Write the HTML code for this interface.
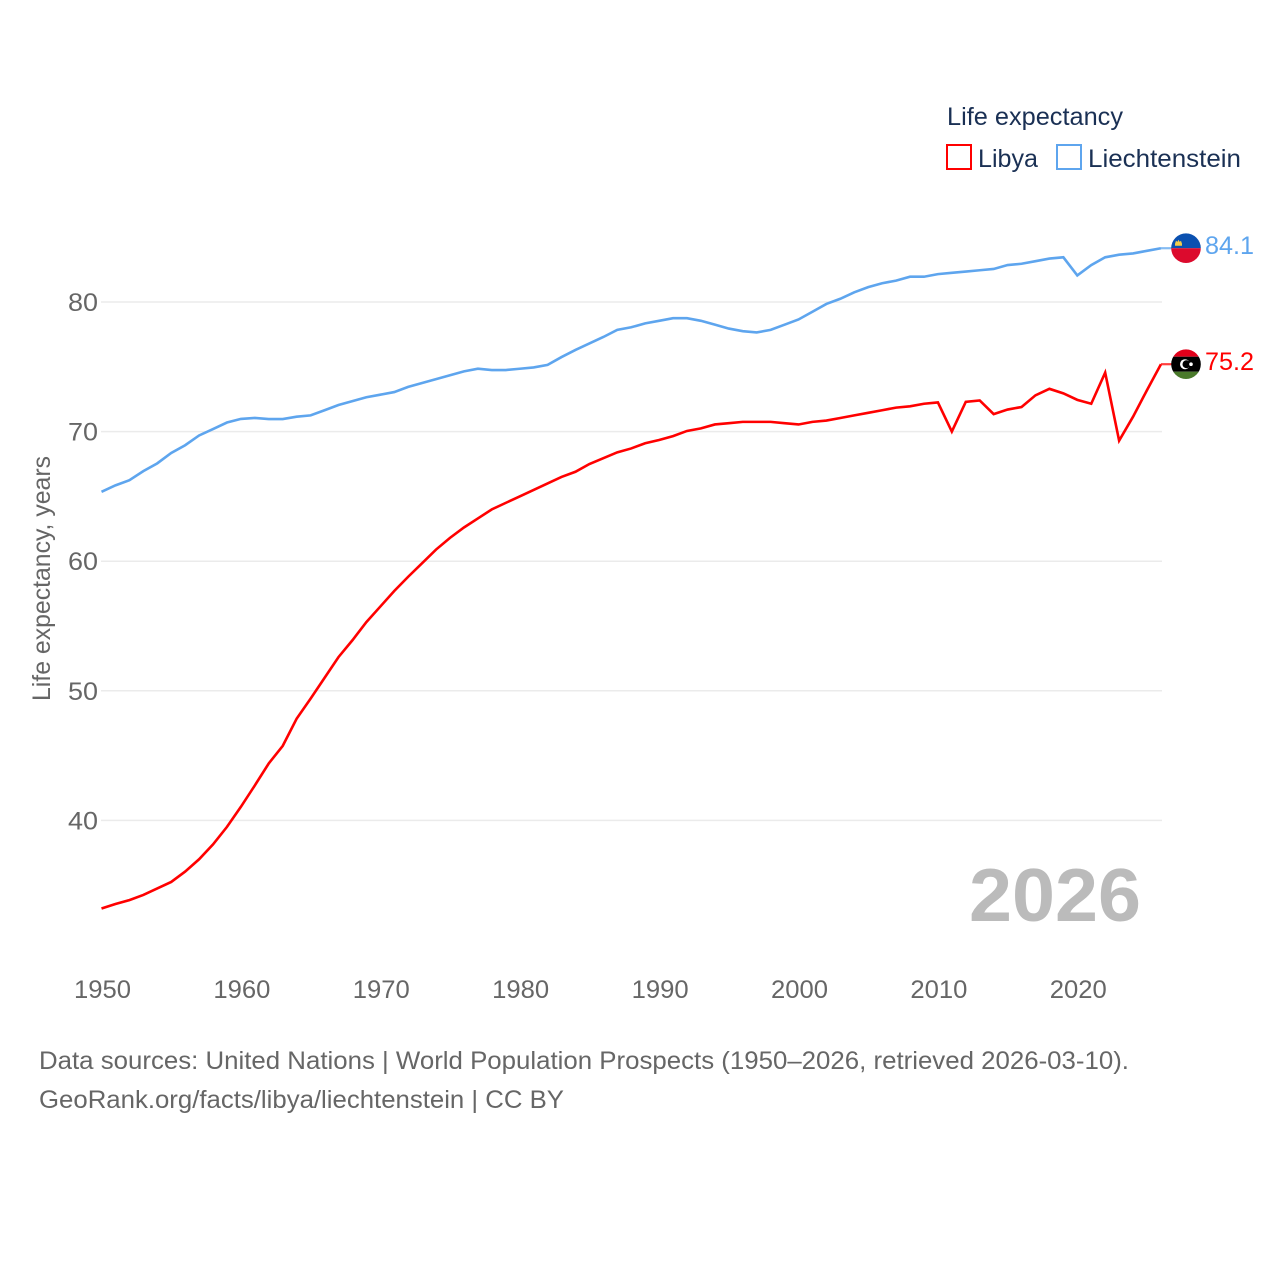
<!DOCTYPE html>
<html lang="en">
<head>
<meta charset="utf-8">
<title>Life expectancy: Libya and Liechtenstein</title>
<style>
html,body{margin:0;padding:0;background:#fff;}
svg{display:block;font-family:"Liberation Sans",sans-serif;}
</style>
</head>
<body>
<svg id="chart" width="1280" height="1280" viewBox="0 0 1280 1280" xmlns="http://www.w3.org/2000/svg">
  <defs>
    <clipPath id="flag-clip-li"><circle cx="0" cy="0" r="14.8"/></clipPath>
    <clipPath id="flag-clip-ly"><circle cx="0" cy="0" r="14.8"/></clipPath>
  </defs>
  <rect width="1280" height="1280" fill="#fff"/>
  <g id="grid"></g>
  <g id="yticks"></g>
  <g id="xticks"></g>
  <text transform="translate(50,701) rotate(-90)" font-size="25" fill="#666" textLength="245" lengthAdjust="spacingAndGlyphs">Life expectancy, years</text>
  <text x="969" y="921" font-size="75" font-weight="700" fill="#bbbbbb" textLength="172" lengthAdjust="spacingAndGlyphs">2026</text>
  <g id="series"></g>

  <g id="flag-li">
    <g clip-path="url(#flag-clip-li)">
      <rect x="-16" y="-16" width="32" height="16" fill="#0a50b0"/>
      <rect x="-16" y="0" width="32" height="16" fill="#dc0a2d"/>
      <path d="M-11,-2.5 h7 v-2 l-1,-3 -1.4,1.2 -1.1,-2.2 -1.1,2.2 -1.4,-1.2 -1,3z" fill="#f2cd4b"/>
    </g>
  </g>
  <g id="flag-ly">
    <g clip-path="url(#flag-clip-ly)">
      <rect x="-16" y="-16" width="32" height="8.5" fill="#e1001a"/>
      <rect x="-16" y="-7.5" width="32" height="15" fill="#000"/>
      <rect x="-16" y="7.5" width="32" height="8.5" fill="#4a7a2b"/>
      <circle cx="-1" cy="0" r="5" fill="#fff"/>
      <circle cx="0.5" cy="0" r="4" fill="#000"/>
      <circle cx="5" cy="0" r="1.8" fill="#fff"/>
    </g>
  </g>
  <text id="value-li" x="1205" font-size="25" fill="#5ea5ee" textLength="49" lengthAdjust="spacingAndGlyphs"></text>
  <text id="value-ly" x="1205" font-size="25" fill="#ff0000" textLength="49" lengthAdjust="spacingAndGlyphs"></text>

  <g>
    <text x="947" y="125" font-size="25" fill="#1a3054" textLength="176" lengthAdjust="spacingAndGlyphs">Life expectancy</text>
    <g>
      <rect x="947" y="145" width="24" height="24" fill="none" stroke="#ff0000" stroke-width="2"/>
      <text x="978" y="167" font-size="25" fill="#1a3054" textLength="60" lengthAdjust="spacingAndGlyphs">Libya</text>
    </g>
    <g>
      <rect x="1057" y="145" width="24" height="24" fill="none" stroke="#5ea5ee" stroke-width="2"/>
      <text x="1088" y="167" font-size="25" fill="#1a3054" textLength="153" lengthAdjust="spacingAndGlyphs">Liechtenstein</text>
    </g>
  </g>

  <text x="39" y="1069" font-size="25" fill="#666" textLength="1090" lengthAdjust="spacingAndGlyphs">Data sources: United Nations | World Population Prospects (1950–2026, retrieved 2026-03-10).</text>
  <text x="39" y="1108" font-size="25" fill="#666" textLength="525" lengthAdjust="spacingAndGlyphs">GeoRank.org/facts/libya/liechtenstein | CC BY</text>
</svg>
<script>
const startYear = 1950;
const yTickValues = [40, 50, 60, 70, 80];
const xTickValues = [1950, 1960, 1970, 1980, 1990, 2000, 2010, 2020];
const libyaLabel = "75.2";
const liechtensteinLabel = "84.1";
const libyaValues = [
  33.2,33.55,33.85,34.25,34.75,35.25,36.05,37.0,38.15,39.5,
  41.05,42.7,44.4,45.75,47.85,49.4,51.0,52.6,53.9,55.3,
  56.5,57.7,58.8,59.85,60.9,61.8,62.6,63.3,64.0,64.5,
  65.0,65.5,66.0,66.5,66.9,67.5,67.95,68.4,68.7,69.1,
  69.35,69.65,70.05,70.25,70.55,70.65,70.75,70.75,70.75,70.65,
  70.55,70.75,70.85,71.05,71.25,71.45,71.65,71.85,71.95,72.15,
  72.25,70.0,72.3,72.4,71.35,71.7,71.9,72.8,73.3,72.95,
  72.45,72.15,74.55,69.3,71.15,73.2,75.2
];
const liechtensteinValues = [
  65.35,65.85,66.25,66.95,67.55,68.35,68.95,69.7,70.2,70.7,
  70.98,71.05,70.97,70.97,71.15,71.25,71.65,72.05,72.35,72.65,
  72.85,73.05,73.45,73.75,74.05,74.35,74.65,74.85,74.75,74.75,
  74.85,74.95,75.15,75.75,76.3,76.8,77.3,77.85,78.05,78.35,
  78.55,78.75,78.75,78.55,78.25,77.95,77.75,77.65,77.85,78.25,
  78.65,79.25,79.85,80.25,80.75,81.15,81.45,81.65,81.95,81.95,
  82.15,82.25,82.35,82.45,82.55,82.85,82.95,83.15,83.35,83.45,
  82.05,82.85,83.45,83.65,83.75,83.95,84.15
];

const NS = "http://www.w3.org/2000/svg";
function xScale(year) { return 101.5 + (year - 1950) * 13.94; }
function yScale(v) { return 302 + (80 - v) * 12.96; }
function make(tag, attrs, parent) {
  const el = document.createElementNS(NS, tag);
  for (const k in attrs) el.setAttribute(k, attrs[k]);
  parent.appendChild(el);
  return el;
}
const grid = document.getElementById("grid");
const yticks = document.getElementById("yticks");
const xticks = document.getElementById("xticks");
const series = document.getElementById("series");

yTickValues.forEach(function (v) {
  const line = make("line", {x1: 101, x2: 1162, y1: yScale(v), y2: yScale(v), stroke: "#ebebeb", "stroke-width": 1.5}, grid);
  
  
  const t = make("text", {x: 98, y: yScale(v) + 9, "text-anchor": "end", "font-size": 25, fill: "#666", textLength: 30, lengthAdjust: "spacingAndGlyphs"}, yticks);
  t.textContent = v;
  
  
});
xTickValues.forEach(function (yr) {
  const t = make("text", {x: xScale(yr) - 27.5, y: 998, "font-size": 25, fill: "#666", textLength: 57, lengthAdjust: "spacingAndGlyphs"}, xticks);
  t.textContent = yr;
  
  
});
function pathFor(values) {
  return values.map(function (v, i) {
    return (i ? "L" : "M") + xScale(startYear + i).toFixed(2) + "," + yScale(v).toFixed(2);
  }).join(" ");
}
function drawSeries(values, color, name, flagId, labelId, label) {
  const last = values[values.length - 1];
  const ly = yScale(last);
  const lastX = xScale(startYear + values.length - 1);
  const stub = make("line", {x1: lastX, x2: 1172, y1: ly, y2: ly, stroke: color, "stroke-width": 2.2, opacity: 0.75}, series);
  
  
  const p = make("path", {d: pathFor(values), fill: "none", stroke: color, "stroke-width": 2.6, "stroke-linejoin": "miter"}, series);
  
  
  document.getElementById(flagId).setAttribute("transform", "translate(1186," + ly + ")");
  const t = document.getElementById(labelId);
  t.setAttribute("y", ly + 6);
  t.textContent = label;
}
drawSeries(liechtensteinValues, "#5ea5ee", "liechtenstein", "flag-li", "value-li", liechtensteinLabel);
drawSeries(libyaValues, "#ff0000", "libya", "flag-ly", "value-ly", libyaLabel);
</script>
</body>
</html>
